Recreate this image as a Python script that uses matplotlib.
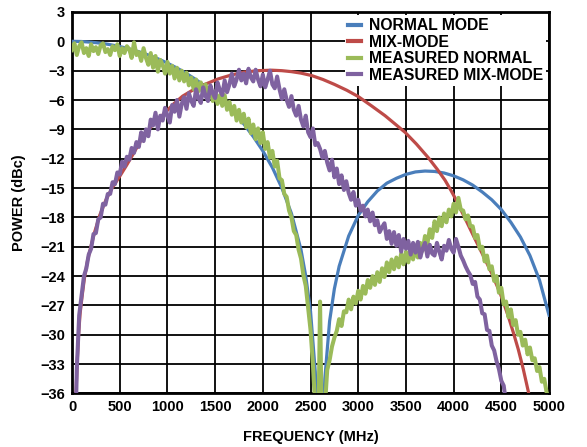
import numpy as np
import matplotlib
matplotlib.use("Agg")
import matplotlib.pyplot as plt

plt.rcParams["font.family"] = ["Liberation Sans", "DejaVu Sans"]
plt.rcParams["font.weight"] = "bold"

# normal mode (calculated)
F_NORMAL = [0, 100, 200, 300, 400, 500, 600, 700, 800, 900, 1000, 1100, 1200,
            1300, 1400, 1500, 1600, 1700, 1800, 1900, 2000, 2100, 2200, 2300,
            2400, 2450, 2500, 2550, 2580, 2600, 2620, 2650, 2700, 2750, 2800,
            2900, 3000, 3100, 3200, 3300, 3400, 3500, 3600, 3700, 3800, 3900,
            4000, 4100, 4200, 4300, 4400, 4500, 4600, 4700, 4800, 4900, 5000]
P_NORMAL = [0.0, -0.02, -0.09, -0.19, -0.34, -0.53, -0.77, -1.06, -1.40, -1.78,
            -2.23, -2.73, -3.29, -3.92, -4.63, -5.42, -6.31, -7.31, -8.44,
            -9.74, -11.2, -12.9, -15.0, -17.6, -21.3, -24.0, -27.6, -33.8,
            -42.0, -60.0, -42.3, -34.5, -28.6, -25.3, -23.0, -19.9, -17.8,
            -16.4, -15.3, -14.5, -14.0, -13.6, -13.35, -13.26, -13.3, -13.46,
            -13.75, -14.16, -14.7, -15.4, -16.2, -17.2, -18.5, -20.0, -21.9,
            -24.4, -28.0]

# mix-mode (calculated)
F_MIX = [35, 42, 55, 70, 85, 105, 130, 164, 200, 234, 290, 356, 420, 500, 570,
         636, 700, 776, 850, 920, 985, 1070, 1160, 1280, 1405, 1530, 1667,
         1800, 1950, 2093, 2200, 2300, 2400, 2512, 2630, 2750, 2880, 3001,
         3140, 3281, 3380, 3491, 3610, 3735, 3830, 3910, 3970, 4020, 4120,
         4224, 4310, 4399, 4490, 4573, 4630, 4678, 4730, 4783, 4830]
P_MIX = [-40.0, -36.0, -32.6, -29.8, -27.8, -26.1, -24.2, -22.35, -20.9, -19.6,
         -17.8, -16.2, -15.0, -13.8, -12.7, -11.6, -10.5, -9.3, -8.5, -7.8,
         -7.2, -6.35, -5.6, -4.9, -4.35, -3.85, -3.45, -3.15, -3.0, -2.95,
         -3.0, -3.1, -3.25, -3.5, -3.9, -4.4, -5.0, -5.65, -6.6, -7.6, -8.4,
         -9.3, -10.5, -11.9, -13.1, -14.2, -15.2, -16.1, -18.1, -20.2, -21.9,
         -23.7, -25.8, -28.1, -29.9, -31.5, -33.5, -35.8, -38.0]

# measured traces, one sample every 25 MHz from 0 MHz
STEP = 25
P_MEAS_NORMAL = [
    -0.9, -0.2, -1.4, -0.5, -0.1, -1.2, -0.7, -1.5,
    -0.3, -1.0, -0.6, -1.3, -0.4, -0.2, -1.1, -0.8,
    -1.4, -0.5, -0.9, -0.3, -1.5, -0.7, -1.2, -0.5,
    -0.8, -1.7, -0.1, -1.4, -1.1, -2.0, -0.7, -1.7,
    -2.4, -1.2, -2.7, -1.5, -3.1, -1.9, -2.4, -3.3,
    -2.1, -3.3, -2.5, -3.8, -2.7, -4.0, -3.0, -4.1,
    -3.2, -4.5, -3.7, -4.9, -3.9, -5.1, -4.2, -5.4,
    -4.4, -5.7, -4.9, -6.1, -5.1, -6.4, -5.5, -6.6,
    -5.5, -7.0, -6.2, -7.5, -6.6, -8.1, -7.0, -8.3,
    -7.4, -8.8, -7.9, -9.4, -8.5, -10.0, -8.9, -10.4,
    -9.3, -11.0, -10.3, -11.9, -11.2, -12.8, -12.2, -14.0,
    -14.2, -15.6, -15.9, -17.3, -18.0, -19.4, -19.8, -21.3,
    -22.2, -23.9, -25.0, -27.2, -29.5, -33.0, -37.5, -45.0,
    -26.6, -45.0, -37.5, -33.6, -32.6, -31.2, -30.3, -29.6,
    -28.4, -29.1, -27.6, -27.7, -26.4, -27.4, -26.1, -26.8,
    -25.5, -26.4, -25.0, -25.8, -24.4, -25.2, -24.0, -24.9,
    -23.6, -24.6, -23.2, -24.1, -22.6, -23.6, -22.3, -23.3,
    -22.1, -23.1, -21.7, -22.8, -21.5, -22.6, -21.3, -22.3,
    -21.1, -22.1, -20.6, -21.4, -19.9, -20.7, -19.2, -20.1,
    -18.4, -19.4, -18.0, -18.9, -17.6, -18.5, -17.2, -17.9,
    -16.6, -17.5, -16.0, -17.2, -17.3, -18.2, -17.8, -18.9,
    -18.9, -20.1, -19.8, -21.2, -21.0, -22.5, -21.9, -23.3,
    -23.0, -24.5, -24.0, -25.7, -25.2, -26.9, -26.6, -28.2,
    -27.4, -29.0, -28.5, -30.0, -29.7, -31.1, -30.5, -32.0,
    -31.3, -32.6, -32.4, -33.7, -33.3, -34.8, -34.5, -35.9,
    -36.4,
]
P_MEAS_MIX = [
    -60.0, -45.0, -33.5, -28.0, -26.0, -24.0, -23.2, -21.8,
    -21.2, -19.7, -19.6, -18.2, -18.0, -16.6, -16.7, -15.6,
    -15.6, -14.4, -14.6, -13.4, -13.6, -12.3, -12.8, -11.8,
    -12.1, -10.9, -11.4, -10.3, -10.8, -9.3, -10.2, -9.0,
    -9.7, -8.0, -8.6, -7.3, -9.0, -7.6, -8.1, -6.8,
    -7.6, -8.3, -6.5, -7.2, -6.0, -7.7, -6.4, -5.7,
    -6.9, -5.3, -6.1, -6.6, -4.9, -5.8, -6.3, -4.7,
    -5.6, -6.1, -4.5, -5.3, -5.8, -4.2, -5.0, -5.5,
    -4.0, -5.2, -4.4, -3.3, -4.6, -3.9, -2.9, -4.0,
    -3.3, -4.3, -2.8, -3.7, -4.1, -2.9, -3.9, -4.6,
    -3.4, -4.7, -3.9, -3.0, -4.4, -4.8, -3.6, -4.9,
    -5.9, -4.9, -6.0, -6.7, -5.6, -7.0, -7.6, -6.6,
    -8.0, -8.7, -7.6, -9.3, -9.8, -8.9, -10.6, -10.4,
    -11.0, -11.9, -11.2, -12.4, -13.2, -12.1, -13.9, -13.0,
    -14.6, -13.7, -15.2, -14.3, -15.5, -16.2, -15.4, -16.8,
    -16.2, -17.3, -16.8, -17.9, -17.2, -18.4, -17.5, -18.8,
    -18.3, -19.5, -19.0, -18.6, -20.2, -19.4, -20.7, -19.5,
    -20.9, -19.8, -21.5, -20.2, -21.2, -20.4, -21.8, -20.6,
    -21.6, -20.5, -22.1, -21.2, -20.6, -22.0, -20.8, -21.7,
    -21.9, -20.6, -21.5, -22.3, -20.9, -21.4, -20.3, -21.2,
    -21.6, -20.2, -21.0, -21.9, -22.4, -23.0, -23.5, -23.9,
    -24.8, -24.6, -26.1, -26.4, -27.8, -27.9, -29.5, -29.6,
    -31.1, -31.6, -32.7, -33.5, -34.7, -35.2, -37.0, -40.0,
    -45.0,
]

X_TICKS = list(range(0, 5001, 500))
Y_TICKS = list(range(3, -37, -3))

BLUE = "#4a7ebb"
RED = "#be4b48"
GREEN = "#9bbb59"
PURPLE = "#7f62a0"

fig = plt.figure(figsize=(5.87, 4.47), dpi=100)
ax = fig.add_axes([0.1227, 0.1197, 0.8126, 0.8535])

ax.plot(F_NORMAL, P_NORMAL, color=BLUE, lw=2.3, label="NORMAL MODE", zorder=3)
ax.plot(F_MIX, P_MIX, color=RED, lw=2.3, label="MIX-MODE", zorder=3)
f_mn = np.arange(len(P_MEAS_NORMAL)) * STEP
f_mm = np.arange(len(P_MEAS_MIX)) * STEP
ax.plot(f_mn, P_MEAS_NORMAL, color=GREEN, lw=2.9, label="MEASURED NORMAL",
        zorder=4)
ax.plot(f_mm, P_MEAS_MIX, color=PURPLE, lw=2.9, label="MEASURED MIX-MODE",
        zorder=4)

ax.set_xlim(0, 5000)
ax.set_ylim(-36, 3)
ax.set_xticks(X_TICKS)
ax.set_yticks(Y_TICKS)
ax.grid(True, color="black", lw=1.3, zorder=0)
ax.set_axisbelow(True)
for s in ax.spines.values():
    s.set_linewidth(2.0)
ax.tick_params(length=0, pad=5, labelsize=10.5)

ax.set_xlabel("FREQUENCY (MHz)", fontsize=10.5, fontweight="bold", labelpad=11)
ax.set_ylabel("POWER (dBc)", fontsize=10.5, fontweight="bold", labelpad=10)

leg = ax.legend(loc="upper right", bbox_to_anchor=(1.0, 1.0), fontsize=11.3,
                frameon=True, handlelength=0.8, handletextpad=0.5,
                labelspacing=0.1, borderpad=0.2, borderaxespad=0.2)
leg.get_frame().set_edgecolor("none")
leg.get_frame().set_facecolor("white")
leg.get_frame().set_alpha(1.0)
leg.set_zorder(5)
for line in leg.get_lines():
    line.set_linewidth(3)

fig.savefig("out.png", dpi=100)
